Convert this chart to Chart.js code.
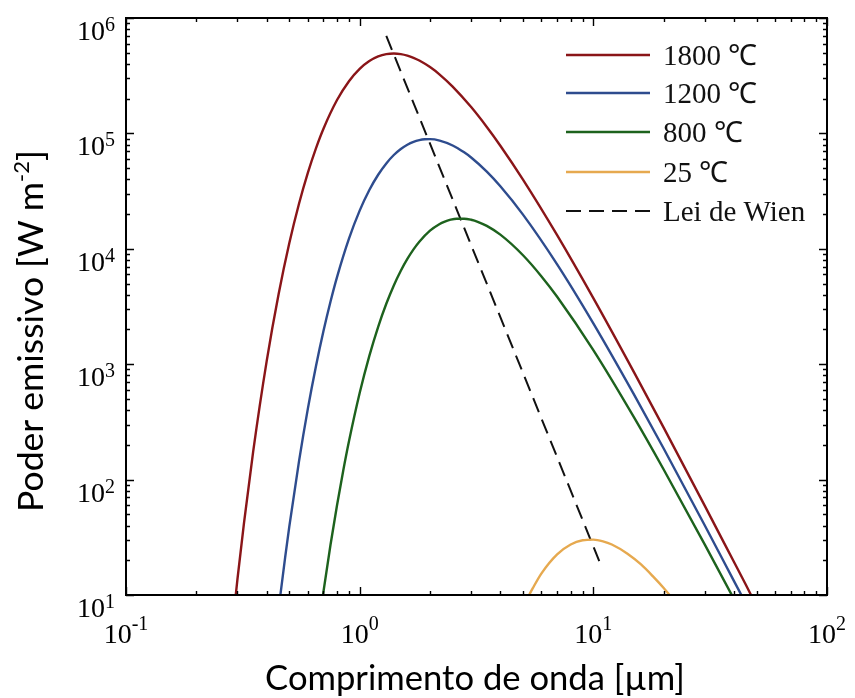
<!DOCTYPE html>
<html><head><meta charset="utf-8">
<script src="https://cdn.jsdelivr.net/npm/chart.js@4.4.1/dist/chart.umd.min.js"></script>
<style>html,body{margin:0;padding:0;background:#fff}canvas{display:block}</style>
</head><body>
<canvas id="c" width="855" height="698" style="width:855px;height:698px"></canvas>
<script>
// ---- data ----
const seriesLabels = ['1800 \u2103', '1200 \u2103', '800 \u2103', '25 \u2103', 'Lei de Wien'];

const wl1800 = [0.28,0.30,0.32,0.35,0.40,0.45,0.50,0.55,0.60,0.65,0.70,0.80,0.90,1.0,1.1,1.2,1.3,1.4,1.5,1.6,1.7,1.8,2.0,2.2,2.5,3,3.5,4,5,7,10,15,20,30,40,45,50];
const val1800 = [3.7,13.8,42.4,174,1064,4055,11210,24590,45540,74310,109900,194600,283500,362400,423200,464000,486200,492600,486800,472400,451900,427900,375400,323500,254400,169000,113700,78250,39810,13130,3735,837,282,59.2,19.3,12.2,8.0];

const wl1200 = [0.42,0.45,0.48,0.50,0.55,0.60,0.65,0.70,0.75,0.80,0.90,1.0,1.1,1.2,1.3,1.4,1.5,1.6,1.7,1.8,1.9,2.0,2.2,2.5,2.8,3,3.5,4,5,7,10,15,20,30,40,50];
const val1200 = [2.3,7.6,21.3,39.3,144,410,960,1939,3480,5689,12260,21430,32330,43840,54950,64960,73280,79830,84550,87460,88940,89170,86680,78620,68490,61760,46610,34810,19780,7333,2260,537,186,40.0,13.2,5.6];

const wl800 = [0.60,0.65,0.70,0.75,0.80,0.85,0.90,1.0,1.1,1.2,1.3,1.4,1.5,1.6,1.7,1.8,2.0,2.2,2.3,2.45,2.6,2.8,3.0,3.2,3.5,4,5,6,7,10,15,20,30,40,45];
const val800 = [0.95,3.5,10.7,27.1,60.0,118.8,214.5,562,1180,2110,3340,4818,6460,8174,9888,11520,14360,16400,17130,17870,18240,18240,17840,17150,15790,13260,8796,5767,3845,1326,341,122.4,27.3,9.2,5.8];

const wl25 = [5.0,5.3,5.5,6,7,8,9,10,11,12,14,16,18,20,22,24];
const val25 = [7.65,9.9,11.4,15.4,22.5,27.4,29.8,30.2,29.2,27.4,22.8,18.4,14.5,11.5,9.1,7.3];

const wienX = [1.3, 10.6];
const wienY = [7.0e5, 19.7];

const xTickExps = [-1, 0, 1, 2];
const yTickExps = [1, 2, 3, 4, 5, 6];

const xTitle = 'Comprimento de onda [\u00B5m]';
const yTitleMain = 'Poder emissivo [W m';
const yTitleSup = '-2';
const yTitleEnd = ']';

// ---- build ----
const pts = (xs, ys) => xs.map((x, i) => ({x: x, y: ys[i]}));
const colors = ['#8a1518', '#2e4c8e', '#1d621d', '#e6a94f', '#111111'];

const datasets = [
  {label: seriesLabels[0], data: pts(wl1800, val1800), borderColor: colors[0]},
  {label: seriesLabels[1], data: pts(wl1200, val1200), borderColor: colors[1]},
  {label: seriesLabels[2], data: pts(wl800, val800), borderColor: colors[2]},
  {label: seriesLabels[3], data: pts(wl25, val25), borderColor: colors[3]},
  {label: seriesLabels[4], data: pts(wienX, wienY), borderColor: colors[4], borderDash: [15, 8], cubicInterpolationMode: 'default', tension: 0, borderWidth: 2}
].map(d => Object.assign({borderWidth: 2.4, pointRadius: 0, fill: false, cubicInterpolationMode: 'monotone'}, d));

const SERIF = '"Liberation Serif", "Times New Roman", serif';
const SANS = 'Lato, "Open Sans", sans-serif';

function fitFont(ctx, family, parts, target) {
  const base = 40;
  let w = 0;
  parts.forEach(p => { ctx.font = (base * p.k) + 'px ' + family; w += ctx.measureText(p.t).width; });
  return base * target / w;
}

const framePlugin = {
  id: 'frame',
  afterDatasetsDraw(chart) {
    const ctx = chart.ctx;
    const a = chart.chartArea;
    const xs = chart.scales.x, ys = chart.scales.y;
    ctx.save();
    ctx.strokeStyle = '#000';
    ctx.fillStyle = '#000';
    // ticks (inward, all four sides)
    ctx.lineWidth = 1.4;
    ctx.beginPath();
    for (let e = -1; e <= 2; e++) {
      for (let m = 1; m <= 9; m++) {
        const v = m * Math.pow(10, e);
        if (v < 0.1 - 1e-12 || v > 100 + 1e-9) continue;
        const px = Math.round(xs.getPixelForValue(v)) + 0.5;
        const L = m === 1 ? 8 : 4;
        ctx.moveTo(px, a.bottom); ctx.lineTo(px, a.bottom - L);
        ctx.moveTo(px, a.top); ctx.lineTo(px, a.top + L);
      }
    }
    for (let e = 1; e <= 6; e++) {
      for (let m = 1; m <= 9; m++) {
        const v = m * Math.pow(10, e);
        if (v > 1e6 + 1) continue;
        const py = Math.round(ys.getPixelForValue(v)) + 0.5;
        const L = m === 1 ? 8 : 4;
        ctx.moveTo(a.left, py); ctx.lineTo(a.left + L, py);
        ctx.moveTo(a.right, py); ctx.lineTo(a.right - L, py);
      }
    }
    ctx.stroke();
    // box
    ctx.lineWidth = 2;
    ctx.strokeRect(a.left, a.top, a.right - a.left, a.bottom - a.top);

    // tick labels
    const bigF = '28px ' + SERIF, supF = '20px ' + SERIF;
    ctx.textBaseline = 'alphabetic';
    ctx.textAlign = 'left';
    xTickExps.forEach(e => {
      const px = xs.getPixelForValue(Math.pow(10, e));
      const s = String(e);
      ctx.font = bigF; const w1 = ctx.measureText('10').width;
      ctx.font = supF; const w2 = ctx.measureText(s).width;
      const x0 = px - (w1 + w2) / 2;
      ctx.font = bigF; ctx.fillText('10', x0, a.bottom + 48);
      ctx.font = supF; ctx.fillText(s, x0 + w1, a.bottom + 35);
    });
    yTickExps.forEach(e => {
      const py = ys.getPixelForValue(Math.pow(10, e));
      const s = String(e);
      ctx.font = bigF; const w1 = ctx.measureText('10').width;
      ctx.font = supF; const w2 = ctx.measureText(s).width;
      const x0 = a.left - 11 - (w1 + w2);
      ctx.font = bigF; ctx.fillText('10', x0, py + 22);
      ctx.font = supF; ctx.fillText(s, x0 + w1, py + 13);
    });

    // x title
    const fx = fitFont(ctx, SANS, [{t: xTitle, k: 1}], 420);
    ctx.font = fx + 'px ' + SANS;
    ctx.textAlign = 'center';
    ctx.fillText(xTitle, 475, 690);

    // y title with superscript
    const fy = fitFont(ctx, SANS, [{t: yTitleMain, k: 1}, {t: yTitleSup, k: 0.62}, {t: yTitleEnd, k: 1}], 362);
    ctx.save();
    ctx.translate(43, 331);
    ctx.rotate(-Math.PI / 2);
    ctx.textAlign = 'left';
    ctx.font = fy + 'px ' + SANS; const m1 = ctx.measureText(yTitleMain).width;
    ctx.font = (fy * 0.62) + 'px ' + SANS; const m2 = ctx.measureText(yTitleSup).width;
    ctx.font = fy + 'px ' + SANS; const m3 = ctx.measureText(yTitleEnd).width;
    let x = -(m1 + m2 + m3) / 2;
    ctx.font = fy + 'px ' + SANS; ctx.fillText(yTitleMain, x, 0); x += m1;
    ctx.font = (fy * 0.62) + 'px ' + SANS; ctx.fillText(yTitleSup, x, -fy * 0.4); x += m2;
    ctx.font = fy + 'px ' + SANS; ctx.fillText(yTitleEnd, x, 0);
    ctx.restore();

    // legend (inside plot area, top right)
    const rows = [55, 93, 132, 172, 211];
    chart.data.datasets.forEach((d, i) => {
      const y = rows[i];
      ctx.save();
      ctx.strokeStyle = d.borderColor;
      ctx.lineWidth = d.borderWidth;
      ctx.setLineDash(d.borderDash || []);
      ctx.beginPath(); ctx.moveTo(566, y); ctx.lineTo(650, y); ctx.stroke();
      ctx.restore();
      ctx.font = '29px ' + SERIF;
      ctx.textAlign = 'left';
      ctx.textBaseline = 'middle';
      ctx.fillStyle = '#111';
      ctx.fillText(d.label, 663, y + 2);
    });
    ctx.restore();
  }
};

new Chart(document.getElementById('c'), {
  type: 'line',
  data: {datasets: datasets},
  options: {
    responsive: false,
    animation: false,
    devicePixelRatio: 1,
    layout: {padding: {left: 126, top: 18, right: 28, bottom: 103}},
    scales: {
      x: {type: 'logarithmic', min: 0.1, max: 100, display: false},
      y: {type: 'logarithmic', min: 10, max: 1e6, display: false}
    },
    plugins: {legend: {display: false}, tooltip: {enabled: false}}
  },
  plugins: [{id: 'bg', beforeDraw(c) { const x = c.ctx; x.save(); x.fillStyle = '#fff'; x.fillRect(0, 0, c.width, c.height); x.restore(); }}, framePlugin]
});
</script></body></html>
